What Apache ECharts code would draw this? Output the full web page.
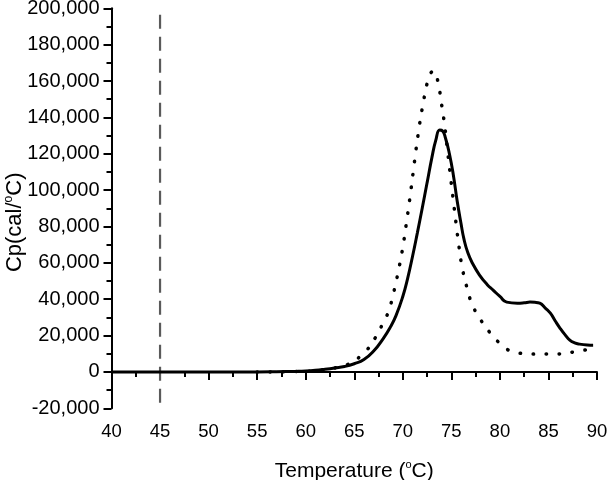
<!DOCTYPE html>
<html>
<head>
<meta charset="utf-8">
<script src="https://cdn.jsdelivr.net/npm/echarts@6/dist/echarts.min.js"></script>
<style>
  html, body { margin: 0; padding: 0; background: #fff; }
</style>
</head>
<body>
<div id="main" style="width: 607px; height: 480px"></div>
<script>
// solid curve (temperature, Cp)
const solidT = [40, 45, 50, 55, 57, 59, 60, 61, 62, 63, 64, 65, 66, 67, 68, 68.7, 69.3, 70, 70.5, 71, 71.5, 72, 72.5, 73, 73.4, 73.8, 74.1, 74.4, 74.8, 75.2, 75.6, 76, 76.3, 76.7, 77.2, 77.9, 78.7, 79.3, 80, 80.7, 81.8, 82.5, 83.1, 83.6, 84.1, 84.7, 85.2, 85.7, 86.2, 86.7, 87.2, 87.7, 88.2, 89, 89.6];
const solidCp = [0, 0, 0, 0, 100, 300, 500, 900, 1500, 2200, 3000, 4500, 6800, 11500, 18500, 24500, 31000, 41500, 51500, 63500, 76500, 90000, 104000, 118000, 127500, 133000, 132500, 128500, 120000, 108500, 94000, 81500, 73000, 65500, 59500, 53300, 48000, 45000, 41500, 38400, 37800, 38000, 38400, 38300, 37800, 35000, 32300, 28000, 24000, 20500, 17500, 16000, 15300, 14800, 14700];

// dotted curve
const dotT = [55, 60, 62, 63, 64, 64.9, 65.6, 66.3, 67.2, 67.9, 68.5, 68.9, 69.2, 69.6, 70, 70.4, 70.8, 71.2, 71.6, 72, 72.3, 72.6, 72.9, 73.2, 73.5, 73.75, 74, 74.3, 74.6, 74.9, 75.2, 75.5, 75.8, 76.1, 76.6, 77.2, 78.1, 79, 80, 81.4, 82.9, 84.1, 85.5, 86.8, 88, 89.4];
const dotCp = [0, 300, 1200, 2200, 3500, 5600, 8500, 12000, 19100, 26200, 32800, 40000, 47000, 57000, 68500, 83000, 98500, 115500, 131500, 145000, 153500, 160500, 164500, 165500, 162000, 156000, 147000, 136000, 122000, 108000, 94500, 81000, 68500, 58000, 46500, 36500, 28000, 21500, 15800, 11000, 10000, 9800, 9800, 10300, 11400, 12500];

// vertical dashed marker
const markT = [45, 45];
const markCp = [196500, -20000];

function pairs(xs, ys) {
  return xs.map((x, i) => [x, ys[i]]);
}

let myChart = echarts.init(document.getElementById("main"));

let option = {
  animation: false,
  grid: {
    left: 111.5,
    right: 10,
    top: 8.3,
    bottom: 71.7,
    containLabel: false,
    outerBoundsMode: "none",
  },
  xAxis: {
    type: "value",
    min: 40,
    max: 90,
    interval: 5,
    name: "{a|Temperature (}{s|o}{a|C)}",
    nameLocation: "middle",
    nameGap: 51,
    nameMoveOverlap: false,
    nameTextStyle: {
      rich: {
        a: { fontFamily: "Liberation Sans", fontSize: 21, color: "#000", lineHeight: 24 },
        s: { fontFamily: "Liberation Sans", fontSize: 11, color: "#000", verticalAlign: "top", lineHeight: 12 },
      },
    },
    axisLine: { lineStyle: { color: "#000", width: 2 } },
    axisTick: { length: 8, lineStyle: { color: "#000", width: 2 } },
    minorTick: { show: true, splitNumber: 2, length: 5, lineStyle: { color: "#000", width: 2 } },
    axisLabel: { margin: 14, fontFamily: "Liberation Sans", fontSize: 18.5, color: "#000" },
    splitLine: { show: false },
  },
  yAxis: {
    type: "value",
    min: -20000,
    max: 200000,
    interval: 20000,
    name: "{a|Cp(cal/}{s|o}{a|C)}",
    nameLocation: "middle",
    nameRotate: 90,
    nameGap: 84,
    nameMoveOverlap: false,
    nameTextStyle: {
      padding: [0, 28, 0, 0],
      rich: {
        a: { fontFamily: "Liberation Sans", fontSize: 22, color: "#000", lineHeight: 25 },
        s: { fontFamily: "Liberation Sans", fontSize: 12, color: "#000", verticalAlign: "top", lineHeight: 12 },
      },
    },
    axisLine: { show: true, lineStyle: { color: "#000", width: 2 } },
    axisTick: { show: true, length: 8, lineStyle: { color: "#000", width: 2 } },
    minorTick: { show: true, splitNumber: 2, length: 5, lineStyle: { color: "#000", width: 2 } },
    axisLabel: {
      margin: 12,
      fontFamily: "Liberation Sans",
      fontSize: 20,
      color: "#000",
      formatter: (v) => v.toLocaleString("en-US"),
    },
    splitLine: { show: false },
  },
  series: [
    {
      name: "marker",
      type: "line",
      data: pairs(markT, markCp),
      symbol: "none",
      lineStyle: { color: "#5a5a5a", width: 2.2, type: [14, 8] },
      z: 1,
    },
    {
      name: "dotted",
      type: "line",
      data: pairs(dotT, dotCp),
      symbol: "none",
      smooth: 0.5,
      lineStyle: { color: "#000", width: 3.5, type: [0.5, 12.5], cap: "round" },
      z: 2,
    },
    {
      name: "solid",
      type: "line",
      data: pairs(solidT, solidCp),
      symbol: "none",
      smooth: 0.5,
      lineStyle: { color: "#000", width: 3 },
      z: 3,
    },
  ],
};

myChart.setOption(option);
</script>
</body>
</html>
